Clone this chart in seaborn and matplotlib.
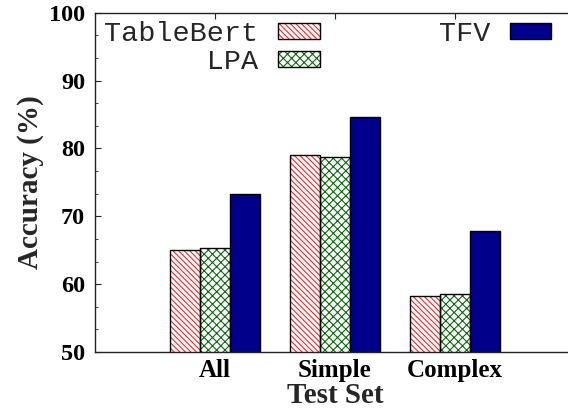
import numpy as np
import pandas as pd
import matplotlib
matplotlib.use('Agg')
import matplotlib.pyplot as plt
import seaborn as sns
from matplotlib.patches import Patch, Rectangle
from matplotlib.legend_handler import HandlerTuple
from matplotlib.ticker import AutoMinorLocator

# ========== 数据 ==========
test_sets = ['All', 'Simple', 'Complex']
models = ['TableBert', 'LPA', 'TFV']
tablebert = [65.1, 79.1, 58.2]
lpa = [65.3, 78.7, 58.5]
tfv = [73.3, 84.6, 67.8]

df = pd.DataFrame({
    'set': test_sets * 3,
    'model': [m for m in models for _ in test_sets],
    'acc': tablebert + lpa + tfv,
})

# ========== 样式 ==========
sns.set_style('ticks')
plt.rcParams['font.family'] = ['Liberation Serif', 'DejaVu Serif']
plt.rcParams['hatch.linewidth'] = 0.8

face = {'TableBert': 'white', 'LPA': 'white', 'TFV': '#00008b'}
hatch_col = {'TableBert': '#ff2020', 'LPA': '#0a6a0a', 'TFV': '#00008b'}
hatches = {'TableBert': '\\' * 6, 'LPA': 'xxxx', 'TFV': ''}

fig = plt.figure(figsize=(5.68, 4.08), dpi=100)
ax = fig.add_axes([0.167, 0.137, 0.845, 0.832])

sns.barplot(data=df, x='set', y='acc', hue='model', order=test_sets,
            hue_order=models, width=0.75, legend=False, ax=ax,
            errorbar=None)

# 每组颜色 / 阴影
for container, m in zip(ax.containers, models):
    for p in container:
        p.set_facecolor(face[m])
        p.set_edgecolor(hatch_col[m])
        p.set_hatch(hatches[m])
        p.set_linewidth(0)
        ax.add_patch(Rectangle(p.get_xy(), p.get_width(), p.get_height(),
                               fill=False, ec='black', lw=1.0, zorder=3))

ax.set_ylim(50, 100)
ax.set_xlim(-1, 3)
ax.set_yticks([50, 60, 70, 80, 90, 100])
ax.yaxis.set_minor_locator(AutoMinorLocator(3))

for s in ax.spines.values():
    s.set_visible(True)
    s.set_linewidth(1.0)
    s.set_color('#222222')

ax.tick_params(axis='both', which='both', direction='in', top=True, right=True,
               colors='#222222')
ax.tick_params(axis='both', which='major', length=4)
ax.tick_params(axis='both', which='minor', length=2.5)
ax.tick_params(axis='y', pad=7)
ax.tick_params(axis='x', pad=5)
for lab in ax.get_yticklabels():
    lab.set_fontweight('bold')
    lab.set_fontsize(17.5)
    lab.set_color('black')
for lab in ax.get_xticklabels():
    lab.set_fontweight('bold')
    lab.set_fontsize(18)
    lab.set_color('black')

ax.set_xlabel('Test Set', fontsize=21, fontweight='bold')
ax.set_ylabel('Accuracy (%)', fontsize=21, fontweight='bold')
ax.xaxis.set_label_coords(0.5, -0.087)
ax.yaxis.set_label_coords(-0.105, 0.5)

# ========== 图例 ==========
handles = []
for m in models:
    h = Patch(facecolor=face[m], edgecolor=hatch_col[m], hatch=hatches[m], lw=0)
    o = Patch(fill=False, edgecolor='black', lw=1.0)
    handles.append((h, o))
labels = ['TableBert', '      LPA', 'TFV']
ax.legend(handles, labels, ncol=2, markerfirst=False, frameon=False,
          prop={'family': 'Liberation Mono', 'size': 20.5},
          handler_map={tuple: HandlerTuple(ndivide=1, pad=0)},
          handlelength=1.47, handleheight=0.49, handletextpad=0.67,
          columnspacing=4.2, labelspacing=0.08,
          loc='upper left', bbox_to_anchor=(0.02, 0.975),
          borderaxespad=0, borderpad=0)

plt.savefig('out.png', dpi=100)
